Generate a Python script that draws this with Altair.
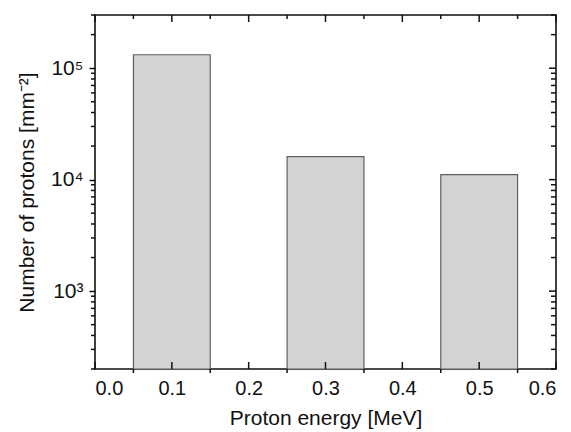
import altair as alt
import pandas as pd

# ---- data ----
energy_lo = [0.05, 0.25, 0.45]
energy_hi = [0.15, 0.35, 0.55]
protons = [132000, 16100, 11100]

x_major = [0.0, 0.1, 0.2, 0.3, 0.4, 0.5, 0.6]
x_minor = [0.05, 0.15, 0.25, 0.35, 0.45, 0.55]
y_major = [1000, 10000, 100000]
y_major_labels = ["10³", "10⁴", "10⁵"]
y_minor = [200, 300, 400, 500, 600, 700, 800, 900,
           2000, 3000, 4000, 5000, 6000, 7000, 8000, 9000,
           20000, 30000, 40000, 50000, 60000, 70000, 80000, 90000,
           200000, 300000]

W, H = 461, 354
FONT = "Liberation Sans"

bars_df = pd.DataFrame({"x": energy_lo, "x2": energy_hi, "y": protons})
xmaj_df = pd.DataFrame({"x": x_major})
xmin_df = pd.DataFrame({"x": x_minor})
ymaj_df = pd.DataFrame({"y": y_major})
ymin_df = pd.DataFrame({"y": y_minor})

xscale = alt.Scale(domain=[0.0, 0.6], nice=False, zero=False)
yscale = alt.Scale(type="log", domain=[200, 300000], nice=False)

label_expr = " : ".join(
    f"datum.value == {v} ? '{l}'" for v, l in zip(y_major, y_major_labels)
) + " : ''"

bars = alt.Chart(bars_df).mark_rect(
    fill="#d3d3d3", stroke="#606060", strokeWidth=1.2
).encode(
    x=alt.X("x:Q", scale=xscale, axis=alt.Axis(
        title="Proton energy [MeV]", values=x_major, format=".1f",
        ticks=False, domain=False, grid=False,
        labelFont=FONT, labelFontSize=20, labelColor="#111",
        labelPadding=9, titleFont=FONT, titleFontSize=21,
        titleFontWeight="normal", titleColor="#111", titlePadding=9)),
    x2="x2:Q",
    y=alt.Y("y:Q", scale=yscale, axis=alt.Axis(
        title="Number of protons [mm⁻²]", values=y_major, labelExpr=label_expr,
        ticks=True, tickSize=6, tickColor="#111", tickWidth=1.5,
        domain=False, grid=False,
        labelFont=FONT, labelFontSize=21, labelColor="#111", labelPadding=6,
        titleFont=FONT, titleFontSize=21, titleFontWeight="normal",
        titleColor="#111", titlePadding=13)),
    y2=alt.datum(200),
)

def rule(df, **enc):
    return alt.Chart(df).mark_rule(color="#111", strokeWidth=1.5).encode(**enc)

xq = alt.X("x:Q", scale=xscale)
yq = alt.Y("y:Q", scale=yscale)

layers = [
    bars,
    # bottom ticks
    rule(xmaj_df, x=xq, y=alt.value(H), y2=alt.value(H - 7)),
    rule(xmin_df, x=xq, y=alt.value(H), y2=alt.value(H + 4)),
    # top ticks
    rule(xmaj_df, x=xq, y=alt.value(0), y2=alt.value(7)),
    rule(xmin_df, x=xq, y=alt.value(0), y2=alt.value(4)),
    # right ticks
    rule(ymaj_df, y=yq, x=alt.value(W), x2=alt.value(W - 7)),
    rule(ymin_df, y=yq, x=alt.value(W), x2=alt.value(W - 5)),
    # left minor ticks (outward)
    rule(ymin_df, y=yq, x=alt.value(0), x2=alt.value(-4)),
]

chart = alt.layer(*layers).properties(
    width=W, height=H,
    background="white",
    autosize=alt.AutoSizeParams(type="none"),
    padding={"left": 87, "top": 7, "right": 7, "bottom": 62},
).configure_view(
    stroke="#111", strokeWidth=1.6
)

chart.save("out.html", embed_options={"renderer": "svg", "actions": False})
